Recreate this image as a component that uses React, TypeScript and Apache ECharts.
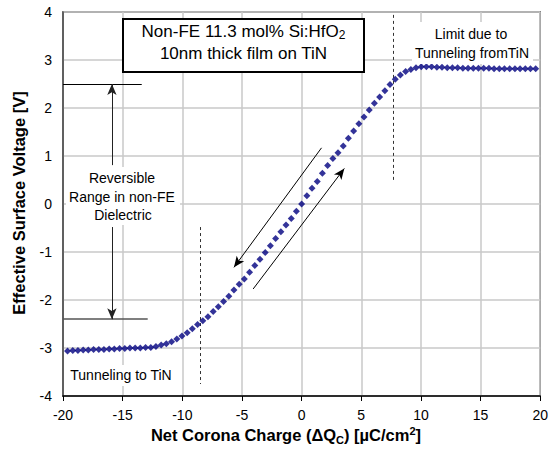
import React, { useEffect, useRef } from "react";
import * as echarts from "echarts";

const chargeValues = [
  -20.06, -19.62, -19.18, -18.75, -18.31, -17.88, -17.44, -17.0, -16.57, -16.13,
  -15.7, -15.26, -14.82, -14.39, -13.95, -13.52, -13.08, -12.64, -12.21, -11.77,
  -11.34, -10.9, -10.46, -10.03, -9.59, -9.16, -8.72, -8.28, -7.85, -7.41,
  -6.98, -6.54, -6.1, -5.67, -5.23, -4.8, -4.36, -3.92, -3.49, -3.05,
  -2.62, -2.18, -1.74, -1.31, -0.87, -0.44, 0,
  0.44, 0.87, 1.31, 1.74, 2.18, 2.62, 3.05, 3.49, 3.92, 4.36,
  4.8, 5.23, 5.67, 6.1, 6.54, 6.98, 7.41, 7.85, 8.28, 8.72,
  9.16, 9.59, 10.03, 10.46, 10.9, 11.34, 11.77, 12.21, 12.64, 13.08,
  13.52, 13.95, 14.39, 14.82, 15.26, 15.7, 16.13, 16.57, 17.0, 17.44,
  17.88, 18.31, 18.75, 19.18, 19.62,
];

const voltageValues = [
  -3.06, -3.06, -3.05, -3.05, -3.04, -3.04, -3.03, -3.03, -3.03, -3.02,
  -3.02, -3.01, -3.01, -3.0, -3.0, -3.0, -2.99, -2.99, -2.97, -2.94,
  -2.91, -2.87, -2.81, -2.75, -2.68, -2.6, -2.51, -2.43, -2.35, -2.24,
  -2.14, -2.03, -1.92, -1.79, -1.67, -1.56, -1.42, -1.28, -1.15, -1.01,
  -0.87, -0.72, -0.58, -0.44, -0.3, -0.15, 0.0,
  0.17, 0.33, 0.47, 0.64, 0.8, 0.95, 1.07, 1.21, 1.37, 1.52,
  1.67, 1.81, 1.96, 2.1, 2.23, 2.36, 2.49, 2.6, 2.69, 2.76,
  2.8, 2.84, 2.86, 2.86, 2.86, 2.85, 2.85, 2.84, 2.84, 2.84,
  2.83, 2.83, 2.83, 2.83, 2.83, 2.83, 2.82, 2.82, 2.82, 2.82,
  2.82, 2.82, 2.82, 2.82, 2.82,
];

const xRange = [-20, 20];
const xStep = 5;
const yRange = [-4, 4];
const yStep = 1;

const FONT = "'Liberation Sans', Arial, Helvetica, sans-serif";

export default function App() {
  const ref = useRef<HTMLDivElement>(null);

  useEffect(() => {
    const chart = echarts.init(ref.current!, null, { renderer: "svg" });
    const data = chargeValues.map((x, i) => [x, voltageValues[i]]);
    const solid = { color: "#000", width: 1, type: "solid" };
    const dashed = { color: "#333", width: 1, type: [3, 3] };
    const arrowEnd = { symbol: "arrow", symbolSize: [7, 11] };

    chart.setOption({
      animation: false,
      backgroundColor: "#fff",
      textStyle: { fontFamily: FONT },
      grid: {
        left: 63,
        top: 12,
        right: 8,
        bottom: 62,
        show: true,
        borderColor: "#444",
        borderWidth: 1.5,
        backgroundColor: "transparent",
      },
      xAxis: {
        type: "value",
        min: xRange[0],
        max: xRange[1],
        interval: xStep,
        axisLine: { show: true, onZero: false, lineStyle: { color: "#000", width: 1.5 } },
        axisTick: { show: true, length: 5, lineStyle: { color: "#000", width: 1 } },
        axisLabel: { fontSize: 14, color: "#000", margin: 12, fontFamily: FONT },
        splitLine: { show: true, lineStyle: { color: "#c8c8c8", width: 1.5 } },
      },
      yAxis: {
        type: "value",
        min: yRange[0],
        max: yRange[1],
        interval: yStep,
        axisLine: { show: true, onZero: false, lineStyle: { color: "#444", width: 1.5 } },
        axisTick: { show: false },
        axisLabel: { fontSize: 14, color: "#000", margin: 11, fontFamily: FONT },
        splitLine: { show: true, lineStyle: { color: "#c8c8c8", width: 1.5 } },
      },
      series: [
        {
          type: "scatter",
          data,
          symbol: "diamond",
          symbolSize: 7,
          itemStyle: { color: "#000080" },
          z: 5,
          markLine: {
            silent: true,
            symbol: ["none", "none"],
            label: { show: false },
            lineStyle: solid,
            z: 4,
            data: [
              [{ coord: [-20, 2.5], lineStyle: solid }, { coord: [-13.4, 2.5] }],
              [{ coord: [-20, -2.4], lineStyle: { color: "#555", width: 1.5, type: "solid" } }, { coord: [-12.9, -2.4] }],
              [{ coord: [-15.9, 0.81], lineStyle: { color: "#222", width: 1, type: "solid" } }, { coord: [-15.9, 2.5], ...arrowEnd }],
              [{ coord: [-15.9, -0.48], lineStyle: { color: "#222", width: 1, type: "solid" } }, { coord: [-15.9, -2.4], ...arrowEnd }],
              [{ coord: [-8.5, -0.48], lineStyle: dashed }, { coord: [-8.5, -3.75] }],
              [{ coord: [7.7, 3.94], lineStyle: dashed }, { coord: [7.7, 0.5] }],
              [{ coord: [1.67, 1.17], lineStyle: solid }, { coord: [-5.67, -1.32], ...arrowEnd }],
              [{ coord: [-4.06, -1.77], lineStyle: solid }, { coord: [3.58, 0.74], ...arrowEnd }],
            ],
          },
        },
      ],
      graphic: [
        { type: "rect", z: 10, shape: { x: 412, y: 22, width: 121, height: 42 }, style: { fill: "#fff" } },
        { type: "rect", z: 10, shape: { x: 66, y: 167, width: 114, height: 58 }, style: { fill: "#fff" } },
        { type: "rect", z: 10, shape: { x: 66, y: 365, width: 110, height: 21 }, style: { fill: "#fff" } },
        {
          type: "rect",
          z: 10,
          shape: { x: 123, y: 19, width: 241, height: 53 },
          style: { fill: "#fff", stroke: "#000", lineWidth: 2 },
        },
        {
          type: "text",
          z: 11,
          x: 243.5,
          y: 31,
          style: {
            text: "Non-FE 11.3 mol% Si:HfO{s|2}",
            fontFamily: FONT,
            fontSize: 17,
            lineHeight: 20,
            fill: "#000",
            align: "center",
            verticalAlign: "middle",
            rich: { s: { fontSize: 12, lineHeight: 12, verticalAlign: "bottom", fontFamily: FONT } },
          },
        },
        {
          type: "text",
          z: 11,
          x: 243.5,
          y: 53,
          style: {
            text: "10nm thick film on TiN",
            fontFamily: FONT,
            fontSize: 17,
            fill: "#000",
            align: "center",
            verticalAlign: "middle",
          },
        },
        {
          type: "text",
          z: 11,
          x: 471,
          y: 34,
          style: { text: "Limit due to", fontFamily: FONT, fontSize: 14, fill: "#000", align: "center", verticalAlign: "middle" },
        },
        {
          type: "text",
          z: 11,
          x: 472,
          y: 53,
          style: { text: "Tunneling fromTiN", fontFamily: FONT, fontSize: 14, fill: "#000", align: "center", verticalAlign: "middle" },
        },
        {
          type: "text",
          z: 11,
          x: 122,
          y: 178,
          style: { text: "Reversible", fontFamily: FONT, fontSize: 14, fill: "#000", align: "center", verticalAlign: "middle" },
        },
        {
          type: "text",
          z: 11,
          x: 122,
          y: 197,
          style: { text: "Range in non-FE", fontFamily: FONT, fontSize: 14, fill: "#000", align: "center", verticalAlign: "middle" },
        },
        {
          type: "text",
          z: 11,
          x: 123,
          y: 215,
          style: { text: "Dielectric", fontFamily: FONT, fontSize: 14, fill: "#000", align: "center", verticalAlign: "middle" },
        },
        {
          type: "text",
          z: 11,
          x: 121,
          y: 375,
          style: { text: "Tunneling to TiN", fontFamily: FONT, fontSize: 14, fill: "#000", align: "center", verticalAlign: "middle" },
        },
        {
          type: "text",
          z: 11,
          x: 286,
          y: 435,
          style: {
            text: "Net Corona Charge (ΔQ{s|C}) [µC/cm{p|2}]",
            fontFamily: FONT,
            fontSize: 16.5,
            fontWeight: "bold",
            lineHeight: 20,
            fill: "#000",
            align: "center",
            verticalAlign: "middle",
            rich: {
              s: { fontSize: 11, fontWeight: "bold", lineHeight: 11, verticalAlign: "bottom", fontFamily: FONT },
              p: { fontSize: 11, fontWeight: "bold", lineHeight: 11, verticalAlign: "top", fontFamily: FONT },
            },
          },
        },
        {
          type: "text",
          z: 11,
          x: 19,
          y: 203,
          rotation: Math.PI / 2,
          style: {
            text: "Effective Surface Voltage [V]",
            fontFamily: FONT,
            fontSize: 16.5,
            fontWeight: "bold",
            fill: "#000",
            align: "center",
            verticalAlign: "middle",
          },
        },
      ],
    });

    return () => chart.dispose();
  }, []);

  return (
    <div
      ref={ref}
      style={{ position: "absolute", left: 0, top: 0, width: 551, height: 458, background: "#fff" }}
    />
  );
}
